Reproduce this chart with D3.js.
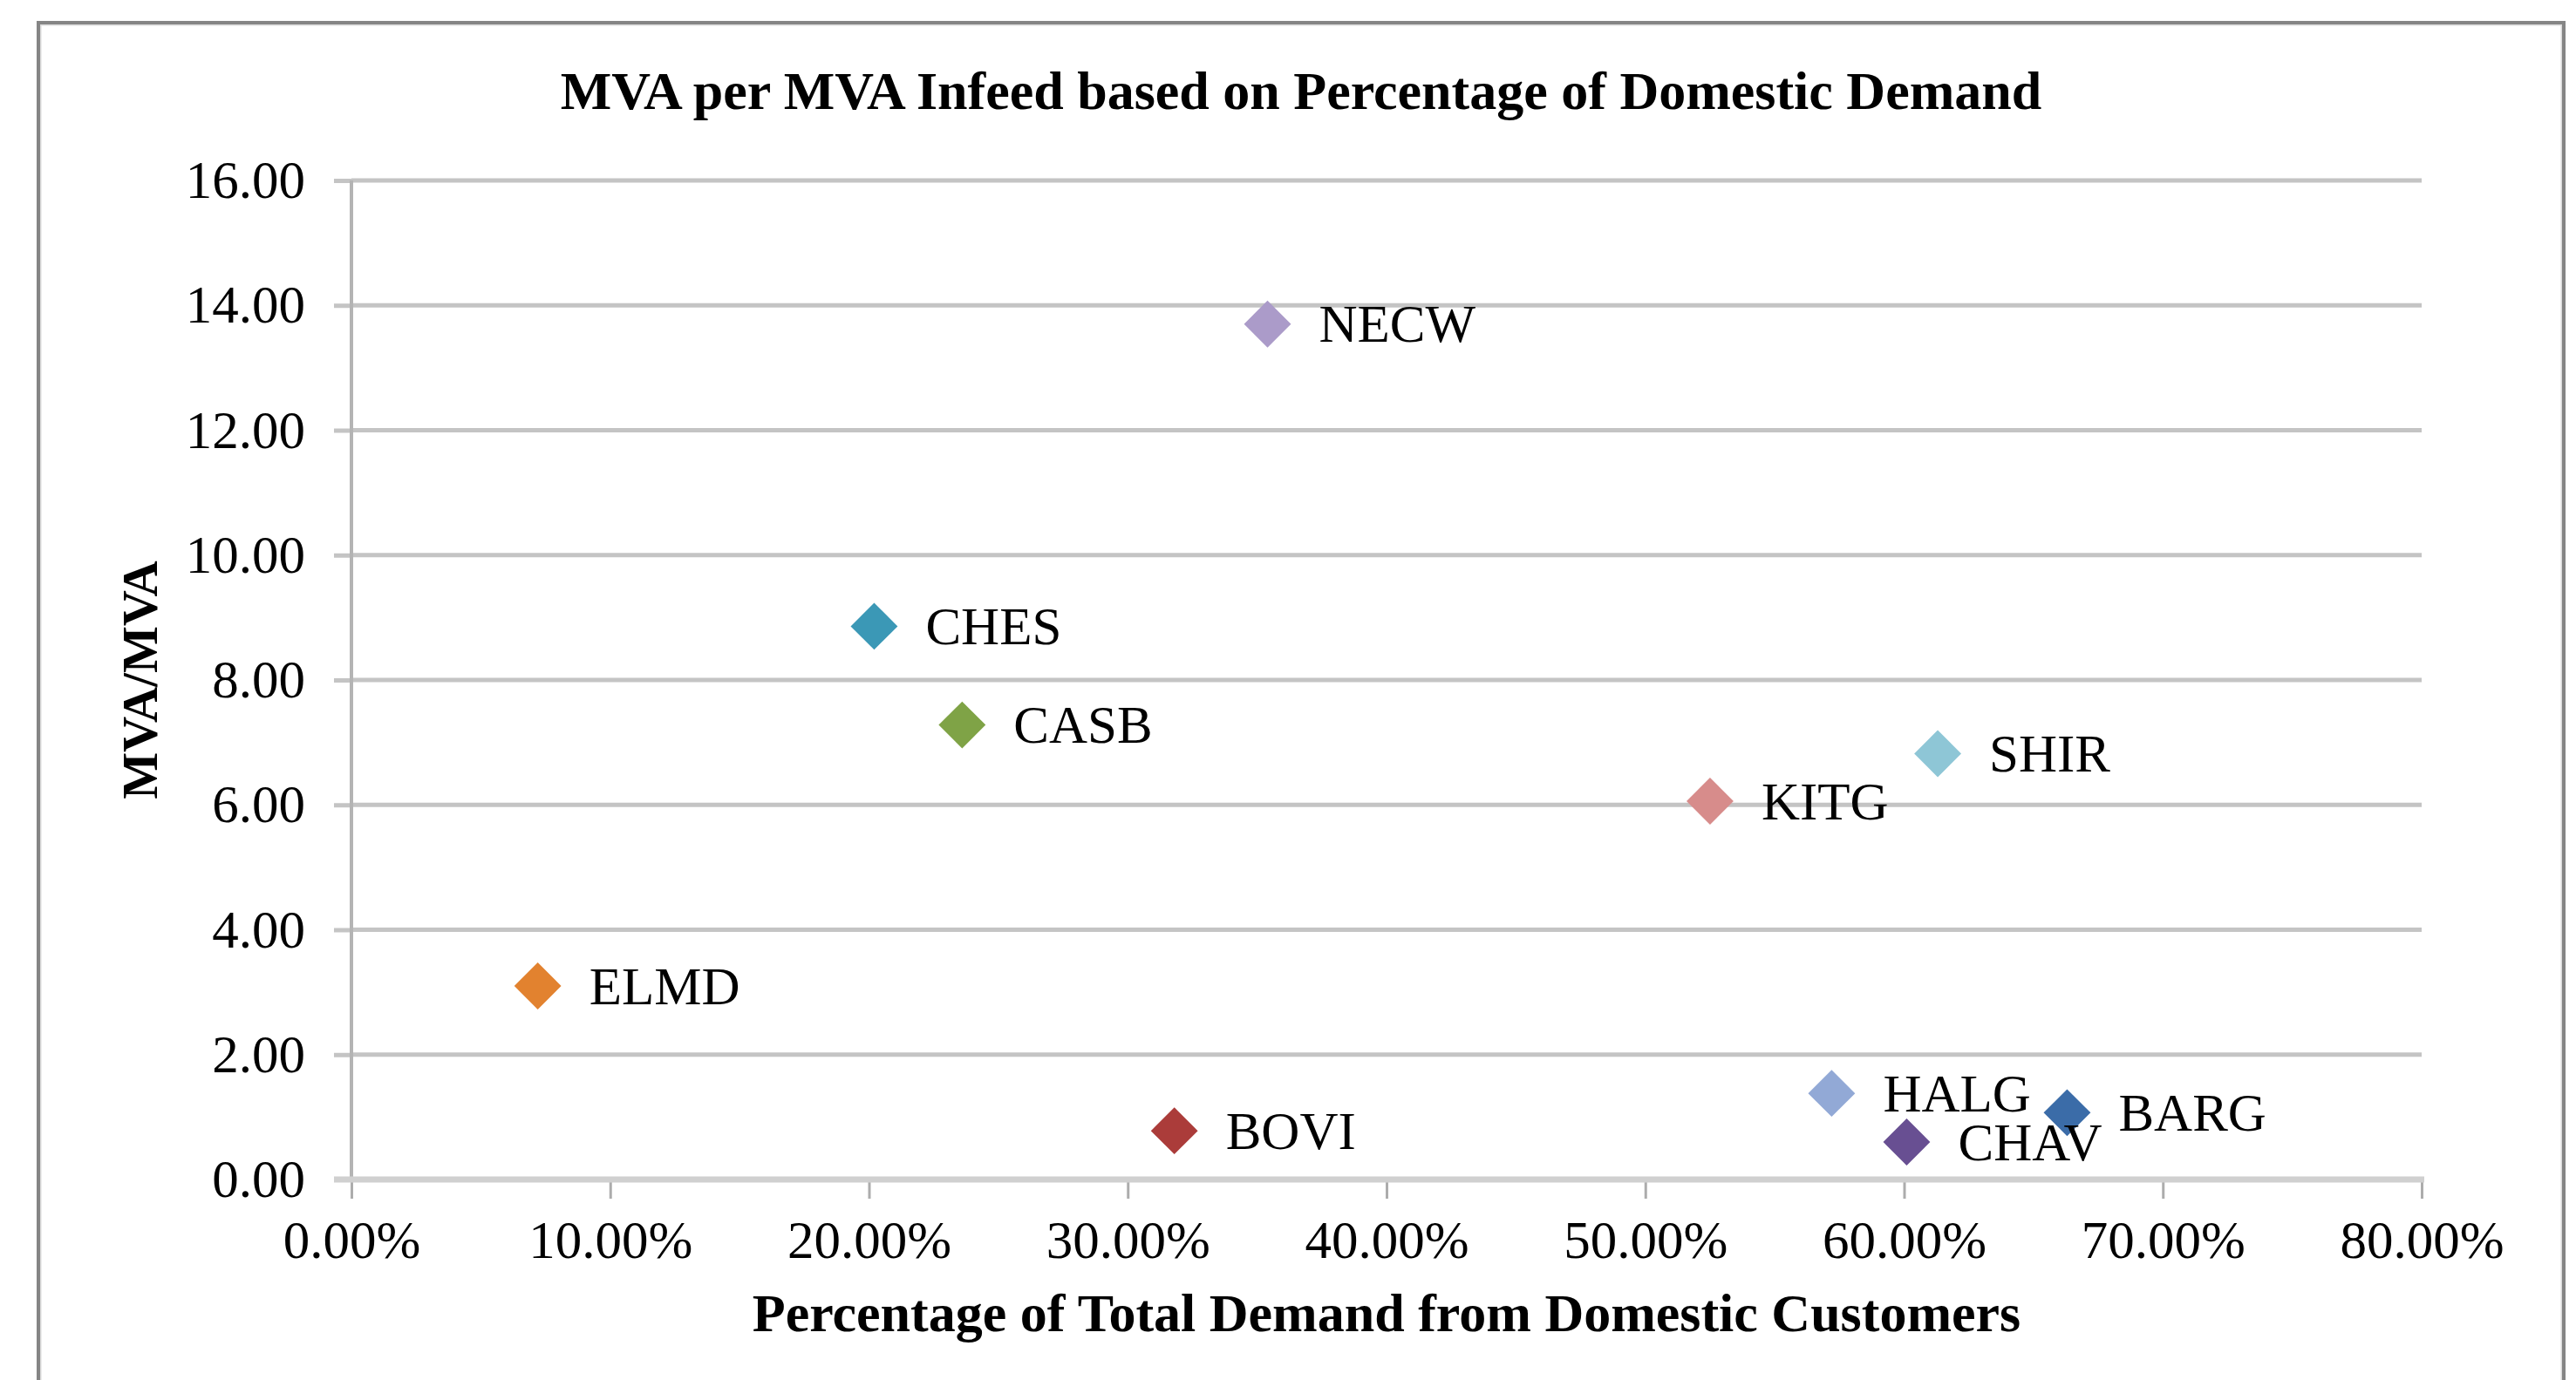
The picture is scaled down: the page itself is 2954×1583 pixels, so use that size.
<!DOCTYPE html>
<html>
<head>
<meta charset="utf-8">
<script src="https://cdn.jsdelivr.net/npm/d3@7"></script>
<style>
body { margin: 0; background: #fff; }
text { font-family: "Liberation Serif", "Times New Roman", serif; fill: #000; }
</style>
</head>
<body>
<script>
// data
const sites = ['NECW', 'CHES', 'CASB', 'SHIR', 'KITG', 'ELMD', 'HALG', 'BARG', 'CHAV', 'BOVI'];
const domesticShare = [0.354, 0.202, 0.236, 0.613, 0.525, 0.072, 0.572, 0.663, 0.601, 0.318];
const mvaRatio = [13.70, 8.86, 7.28, 6.82, 6.06, 3.10, 1.38, 1.07, 0.60, 0.78];
const xTicks = [0, 0.1, 0.2, 0.3, 0.4, 0.5, 0.6, 0.7, 0.8];
const yTicks = [0, 2, 4, 6, 8, 10, 12, 14, 16];

const siteColors = ['#ab9bc9', '#3b98b6', '#7fa346', '#8ec6d6', '#d78c8b', '#e2822f',
    '#92a9d6', '#3b6ca8', '#684f92', '#ab3c3a'];

const width = 2954, height = 1583;
const plot = {left: 403, right: 2777, top: 207, bottom: 1353};

const svg = d3.select('body').append('svg')
    .attr('width', width)
    .attr('height', height);

const x = d3.scaleLinear().domain([0, 0.8]).range([plot.left, plot.right]);
const y = d3.scaleLinear().domain([0, 16]).range([plot.bottom, plot.top]);

// chart frame
svg.append('rect')
    .attr('x', 46).attr('y', 28)
    .attr('width', 2892).attr('height', 1600)
    .attr('fill', 'none')
    .attr('stroke', '#dadada')
    .attr('stroke-width', 3);
svg.append('rect')
    .attr('x', 44).attr('y', 26)
    .attr('width', 2896).attr('height', 1600)
    .attr('fill', 'none')
    .attr('stroke', '#858585')
    .attr('stroke-width', 4);

function renderGrid() {
    svg.append('g')
        .attr('class', 'grid')
        .selectAll('line')
        .data(yTicks.filter(d => d > 0))
        .join('line')
        .attr('x1', plot.left)
        .attr('x2', plot.right)
        .attr('y1', d => y(d))
        .attr('y2', d => y(d))
        .attr('stroke', '#c4c4c4')
        .attr('stroke-width', 5);
}

function renderYAxis() {
    const yAxis = d3.axisLeft(y)
        .tickValues(yTicks)
        .tickFormat(d3.format('.2f'))
        .tickSize(20)
        .tickPadding(33);

    const g = svg.append('g')
        .attr('class', 'y-axis')
        .attr('transform', 'translate(' + plot.left + ',0)')
        .call(yAxis);

    g.select('.domain').remove();
    g.selectAll('.tick line').attr('stroke', '#c4c4c4').attr('stroke-width', 5);
    g.selectAll('.tick text').attr('font-size', 61).attr('font-family', null);

    svg.append('line')
        .attr('x1', plot.left).attr('x2', plot.left)
        .attr('y1', plot.top).attr('y2', plot.bottom)
        .attr('stroke', '#b4b4b4')
        .attr('stroke-width', 4);

    svg.append('text')
        .attr('transform', 'translate(180,' + ((plot.top + plot.bottom) / 2) + ') rotate(-90)')
        .attr('text-anchor', 'middle')
        .attr('font-size', 57)
        .attr('font-weight', 'bold')
        .text('MVA/MVA');
}

function renderXAxis() {
    const xAxis = d3.axisBottom(x)
        .tickValues(xTicks)
        .tickFormat(d3.format('.2%'))
        .tickSize(22)
        .tickPadding(25);

    const g = svg.append('g')
        .attr('class', 'x-axis')
        .attr('transform', 'translate(0,' + plot.bottom + ')')
        .call(xAxis);

    g.select('.domain').remove();
    g.selectAll('.tick line').attr('stroke', '#acacac').attr('stroke-width', 3);
    g.selectAll('.tick text').attr('font-size', 61).attr('font-family', null);

    svg.append('line')
        .attr('x1', plot.left - 20).attr('x2', plot.right + 3)
        .attr('y1', plot.bottom).attr('y2', plot.bottom)
        .attr('stroke', '#d0d0d0')
        .attr('stroke-width', 7);

    svg.append('text')
        .attr('x', (plot.left + plot.right) / 2)
        .attr('y', 1527)
        .attr('text-anchor', 'middle')
        .attr('font-size', 62)
        .attr('font-weight', 'bold')
        .text('Percentage of Total Demand from Domestic Customers');
}

function renderTitle() {
    svg.append('text')
        .attr('x', 1492)
        .attr('y', 125)
        .attr('text-anchor', 'middle')
        .attr('font-size', 62)
        .attr('font-weight', 'bold')
        .text('MVA per MVA Infeed based on Percentage of Domestic Demand');
}

function renderPoints() {
    const diamond = d3.symbol().type(d3.symbolSquare).size(1450);

    svg.append('g')
        .attr('class', 'points')
        .selectAll('path')
        .data(sites)
        .join('path')
        .attr('d', diamond)
        .attr('transform', (d, i) => 'translate(' + x(domesticShare[i]) + ',' + y(mvaRatio[i]) + ') rotate(45)')
        .attr('fill', (d, i) => siteColors[i]);

    svg.append('g')
        .attr('class', 'labels')
        .selectAll('text')
        .data(sites)
        .join('text')
        .attr('x', (d, i) => x(domesticShare[i]) + 59)
        .attr('y', (d, i) => y(mvaRatio[i]))
        .attr('dy', '0.34em')
        .attr('font-size', 61)
        .text(d => d);
}

renderGrid();
renderYAxis();
renderXAxis();
renderTitle();
renderPoints();
</script>
</body>
</html>
